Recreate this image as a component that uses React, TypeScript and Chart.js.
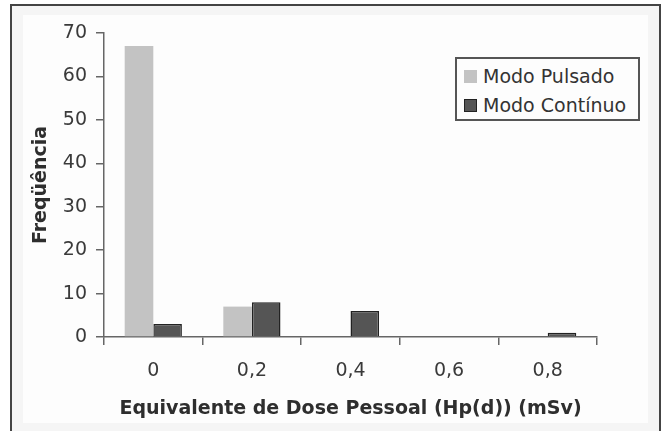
import React, { useEffect, useRef } from "react";
import { Chart, registerables } from "chart.js";

Chart.register(...registerables);

const categories = ["0", "0,2", "0,4", "0,6", "0,8"];
const seriesNames = ["Modo Pulsado", "Modo Contínuo"];
const pulsado = [67, 7, 0, 0, 0];
const continuo = [3, 8, 6, 0, 1];
const yTicks = [0, 10, 20, 30, 40, 50, 60, 70];
const colors = ["#c3c3c3", "#555555"];
const borders = ["#c3c3c3", "#222222"];

const FONT = "'DejaVu Sans', sans-serif";

export default function App() {
  const ref = useRef<HTMLCanvasElement | null>(null);

  useEffect(() => {
    if (!ref.current) return;
    const chart = new Chart(ref.current, {
      type: "bar",
      data: {
        labels: categories,
        datasets: [
          {
            label: seriesNames[0],
            data: pulsado,
            backgroundColor: colors[0],
            borderColor: borders[0],
            borderWidth: 0,
            categoryPercentage: 0.58,
            barPercentage: 1,
          },
          {
            label: seriesNames[1],
            data: continuo,
            backgroundColor: colors[1],
            borderColor: borders[1],
            borderWidth: 1.5,
            categoryPercentage: 0.58,
            barPercentage: 1,
          },
        ],
      },
      options: {
        animation: false,
        responsive: false,
        maintainAspectRatio: false,
        layout: { padding: { top: 33, right: 64, left: 0, bottom: 0 } },
        plugins: {
          legend: { display: false },
          tooltip: { enabled: false },
        },
        scales: {
          x: {
            grid: {
              display: true,
              drawOnChartArea: false,
              offset: true,
              tickLength: 8,
              color: "#666",
              lineWidth: 1.5,
            },
            border: { display: true, color: "#666", width: 1.5 },
            ticks: {
              color: "#3a3a3a",
              font: { family: FONT, size: 19 },
              padding: 15,
            },
            title: {
              display: true,
              text: "Equivalente de Dose Pessoal (Hp(d)) (mSv)",
              color: "#2e2e2e",
              font: { family: FONT, size: 19, weight: "bold" },
              padding: { top: 0, bottom: 11 },
            },
            afterFit: (s: any) => {
              s.height = 94;
            },
          },
          y: {
            min: 0,
            max: 70,
            afterBuildTicks: (s: any) => {
              s.ticks = yTicks.map((v) => ({ value: v }));
            },
            grid: {
              display: true,
              drawOnChartArea: false,
              tickLength: 8,
              color: "#666",
              lineWidth: 1.5,
            },
            border: { display: true, color: "#666", width: 1.5 },
            ticks: {
              color: "#3a3a3a",
              font: { family: FONT, size: 19 },
              padding: 9,
            },
            title: {
              display: true,
              text: "Freqüência",
              color: "#2e2e2e",
              font: { family: FONT, size: 19, weight: "bold" },
              padding: { top: 30, bottom: 0 },
            },
            afterFit: (s: any) => {
              s.width = 104;
            },
          },
        },
      },
    });
    return () => chart.destroy();
  }, []);

  return (
    <div
      style={{
        position: "fixed",
        left: 0,
        top: 0,
        width: 661,
        height: 431,
        background: "#ffffff",
        overflow: "hidden",
      }}
    >
      <div
        style={{
          position: "absolute",
          left: 10,
          top: 4,
          width: 647,
          height: 440,
          border: "2px solid #444",
          background: "#f5f5f5",
        }}
      />
      <div
        style={{
          position: "absolute",
          left: 23,
          top: 15,
          width: 625,
          height: 408,
          background: "#fdfdfd",
        }}
      />
      <canvas
        ref={ref}
        width={661}
        height={431}
        style={{ position: "absolute", left: 0, top: 0, width: 661, height: 431 }}
      />
      <div
        style={{
          position: "absolute",
          left: 455,
          top: 57,
          width: 181,
          height: 60,
          border: "2px solid #555",
          background: "#fdfdfd",
          fontFamily: FONT,
          fontSize: 19,
          color: "#333",
        }}
      >
        {seriesNames.map((name, i) => (
          <div
            key={name}
            style={{
              position: "absolute",
              left: 7,
              top: 6 + i * 29,
              height: 22,
              display: "flex",
              alignItems: "center",
              whiteSpace: "nowrap",
              lineHeight: "22px",
            }}
          >
            <span
              style={{
                display: "inline-block",
                width: i === 1 ? 11 : 13,
                height: i === 1 ? 11 : 13,
                background: colors[i],
                border: i === 1 ? "1px solid #222" : "none",
                marginRight: 6,
              }}
            />
            <span>{name}</span>
          </div>
        ))}
      </div>
    </div>
  );
}
